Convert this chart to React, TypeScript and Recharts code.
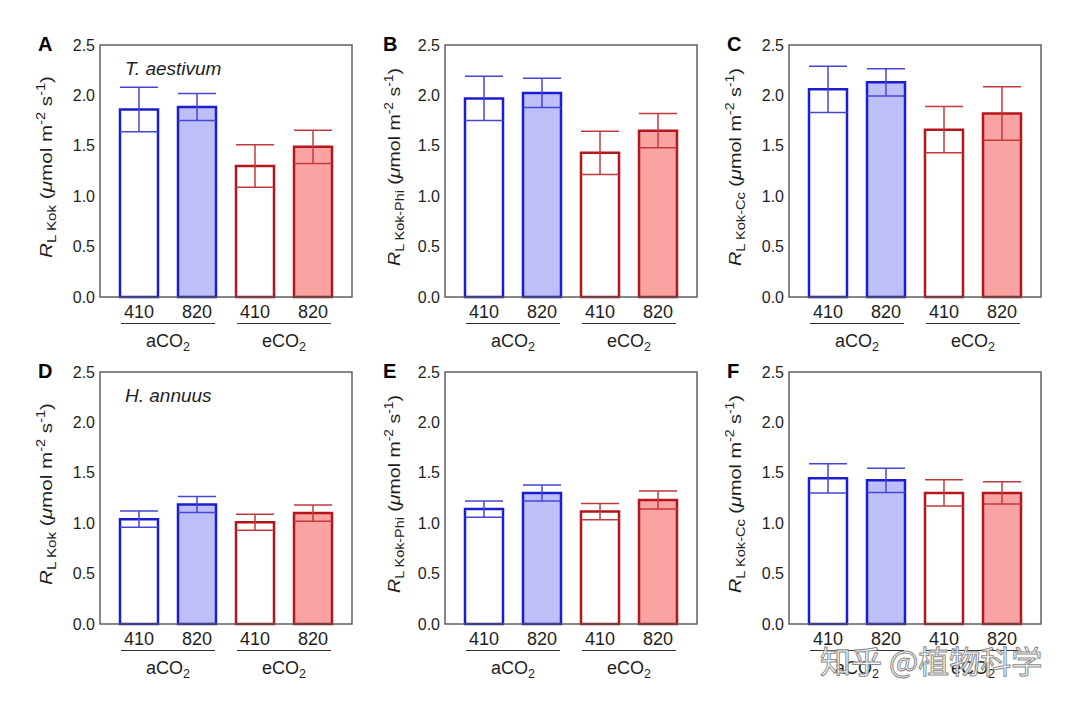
import React from "react";
import { BarChart, Bar, XAxis, YAxis, ErrorBar, Cell } from "recharts";

// shared axis categories
const categories = ["410", "820", "410", "820"];
const groups = ["aCO2", "aCO2", "eCO2", "eCO2"];
const yTicks = [0, 0.5, 1.0, 1.5, 2.0, 2.5];

// means and error bars
const meanA = [1.86, 1.885, 1.3, 1.49];
const errA = [0.22, 0.135, 0.21, 0.165];
const meanB = [1.97, 2.025, 1.43, 1.65];
const errB = [0.22, 0.145, 0.215, 0.17];
const meanC = [2.06, 2.13, 1.66, 1.82];
const errC = [0.23, 0.135, 0.23, 0.265];
const meanD = [1.04, 1.185, 1.01, 1.1];
const errD = [0.08, 0.08, 0.08, 0.08];
const meanE = [1.14, 1.3, 1.115, 1.23];
const errE = [0.08, 0.08, 0.08, 0.09];
const meanF = [1.445, 1.425, 1.3, 1.3];
const errF = [0.145, 0.12, 0.13, 0.11];

const FONT = "Arial, 'Liberation Sans', Helvetica, sans-serif";
const TEXT = "#1e1e1e";
const FRAME = "#555555";
const BLUE = "#1c1cd0";
const RED = "#b5161b";
const BLUE_ERR = "#4646d6";
const RED_ERR = "#c23a3c";
const fills = ["#ffffff", "#bdbff6", "#ffffff", "#f9a3a3"];
const strokes = [BLUE, BLUE, RED, RED];

// chart box
const W = 360;
const H = 330;
const M = { top: 15, right: 8, left: 0, bottom: 6 };
const Y_W = 100;
const CAT_H = 26;
const GRP_H = 31;

const makeRows = (mean: number[], err: number[]) =>
  categories.map((cat, i) => {
    const amb = groups[i] === "aCO2";
    return {
      cat,
      group: groups[i],
      a: amb ? mean[i] : null,
      aErr: amb ? err[i] : null,
      e: amb ? null : mean[i],
      eErr: amb ? null : err[i],
    };
  });

const CatTick = (props: any) => {
  const { x, y, payload } = props;
  return (
    <text x={x} y={y + 21} textAnchor="middle" fontSize={18} fontFamily={FONT} fill={TEXT}>
      {payload.value}
    </text>
  );
};

const GroupTick = (props: any) => {
  const { x, y, payload } = props;
  const name: string = payload.value;
  return (
    <g>
      <line x1={x - 47} x2={x + 47} y1={y + 0.5} y2={y + 0.5} stroke="#333" strokeWidth={1.2} />
      <text x={x} y={y + 24} textAnchor="middle" fontSize={18} fontFamily={FONT} fill={TEXT}>
        {name.slice(0, -1)}
        <tspan fontSize={12.5} dy={4}>{name.slice(-1)}</tspan>
      </text>
    </g>
  );
};

const YLabel = (props: any) => {
  const { viewBox, sub, gap, len } = props;
  const x = viewBox.x + viewBox.width - gap;
  const cy = viewBox.y + viewBox.height / 2 - 4;
  return (
    <text
      x={x}
      y={cy}
      transform={`rotate(-90, ${x}, ${cy})`}
      textAnchor="middle"
      fontSize={17}
      fontFamily={FONT}
      fill={TEXT}
      textLength={len}
      lengthAdjust="spacingAndGlyphs"
    >
      <tspan fontStyle="italic">R</tspan>
      <tspan fontSize={12.5} dy={4}>L {sub}</tspan>
      <tspan dy={-4}> (</tspan>
      <tspan fontStyle="italic">μ</tspan>
      <tspan>mol m</tspan>
      <tspan fontSize={12} dy={-7}>-2</tspan>
      <tspan dy={7}> s</tspan>
      <tspan fontSize={12} dy={-7}>-1</tspan>
      <tspan dy={7}>)</tspan>
    </text>
  );
};

interface PanelProps {
  letter: string;
  species?: string;
  sub: string;
  mean: number[];
  err: number[];
  left: number;
  top: number;
  gap: number;
  len: number;
}

const Panel = ({ letter, species, sub, mean, err, left, top, gap, len }: PanelProps) => {
  const rows = makeRows(mean, err);
  const plotW = W - M.left - M.right - Y_W;
  const plotH = H - M.top - M.bottom - CAT_H - GRP_H;
  return (
    <div style={{ position: "absolute", left, top, width: W, height: H }}>
      <BarChart width={W} height={H} data={rows} margin={M} barSize={38}>
        <XAxis
          xAxisId="z_grp"
          dataKey="group"
          allowDuplicatedCategory={false}
          padding={{ left: 10, right: 10 }}
          interval={0}
          height={GRP_H}
          tickLine={false}
          tickSize={0}
          tickMargin={0}
          axisLine={false}
          tick={<GroupTick />}
        />
        <XAxis
          xAxisId="a_cat"
          dataKey="cat"
          padding={{ left: 10, right: 10 }}
          interval={0}
          height={CAT_H}
          tickLine={false}
          tickSize={0}
          tickMargin={0}
          axisLine={false}
          tick={<CatTick />}
        />
        <YAxis
          yAxisId="left"
          domain={[0, 2.5]}
          ticks={yTicks}
          interval={0}
          width={Y_W}
          tickLine={false}
          tickSize={0}
          tickMargin={5}
          tickFormatter={(v: number) => v.toFixed(1)}
          tick={{ fill: TEXT, fontSize: 16, fontFamily: FONT }}
          axisLine={false}
          label={<YLabel sub={sub} gap={gap} len={len} />}
        />
        <Bar xAxisId="a_cat" yAxisId="left" dataKey="a" stackId="s" strokeWidth={2.5} isAnimationActive={false}>
          {rows.map((r, i) => (
            <Cell key={`a-${i}`} fill={fills[i]} stroke={strokes[i]} />
          ))}
          <ErrorBar dataKey="aErr" width={19} stroke={BLUE_ERR} strokeWidth={1.5} direction="y" />
        </Bar>
        <Bar xAxisId="a_cat" yAxisId="left" dataKey="e" stackId="s" strokeWidth={2.5} isAnimationActive={false}>
          {rows.map((r, i) => (
            <Cell key={`e-${i}`} fill={fills[i]} stroke={strokes[i]} />
          ))}
          <ErrorBar dataKey="eErr" width={19} stroke={RED_ERR} strokeWidth={1.5} direction="y" />
        </Bar>
      </BarChart>
      <svg width={W} height={H} style={{ position: "absolute", left: 0, top: 0, pointerEvents: "none" }}>
        <rect
          x={M.left + Y_W}
          y={M.top}
          width={plotW}
          height={plotH}
          fill="none"
          stroke={FRAME}
          strokeWidth={1.4}
        />
        <text x={38} y={21} fontSize={20} fontWeight="bold" fontFamily={FONT} fill="#000">
          {letter}
        </text>
        {species && (
          <text x={125} y={45} fontSize={19} fontStyle="italic" fontFamily={FONT} fill={TEXT}>
            {species}
          </text>
        )}
      </svg>
    </div>
  );
};

export default function App() {
  return (
    <div style={{ position: "absolute", left: 0, top: 0, width: 1080, height: 706, background: "#fff" }}>
      <Panel letter="A" species="T. aestivum" sub="Kok" mean={meanA} err={errA} left={0} top={30} gap={48} len={182} />
      <Panel letter="B" sub="Kok-Phi" mean={meanB} err={errB} left={345} top={30} gap={45} len={198} />
      <Panel letter="C" sub="Kok-Cc" mean={meanC} err={errC} left={689} top={30} gap={48} len={198} />
      <Panel letter="D" species="H. annuus" sub="Kok" mean={meanD} err={errD} left={0} top={357} gap={48} len={182} />
      <Panel letter="E" sub="Kok-Phi" mean={meanE} err={errE} left={345} top={357} gap={45} len={198} />
      <Panel letter="F" sub="Kok-Cc" mean={meanF} err={errF} left={689} top={357} gap={48} len={198} />
      <svg width={1080} height={706} style={{ position: "absolute", left: 0, top: 0, pointerEvents: "none" }}>
        <text
          x={820}
          y={673}
          fontSize={31}
          fontFamily="'Noto Sans CJK SC', sans-serif"
          fill="#ffffff"
          fillOpacity={0.85}
          stroke="#8a8a8a"
          strokeWidth={1}
        >
          知乎 @植物科学
        </text>
      </svg>
    </div>
  );
}
